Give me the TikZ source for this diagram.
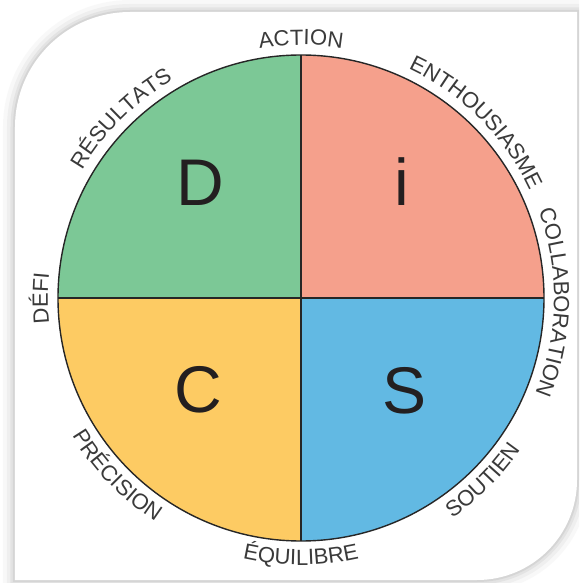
\documentclass[tikz,border=0pt]{standalone}
\usepackage{fontspec}
\setmainfont{Liberation Sans}
\usetikzlibrary{decorations.text}

\definecolor{discD}{HTML}{7CC896}
\definecolor{discI}{HTML}{F5A08C}
\definecolor{discS}{HTML}{62B9E3}
\definecolor{discC}{HTML}{FDCB63}
\definecolor{lblgray}{HTML}{3A3A3A}
\definecolor{letterink}{HTML}{231F20}

\newcommand\lblfont{\fontsize{22}{22}\selectfont\color{lblgray}}
\newcommand\discCard{(-286,-282) -- (-286,171) arc[start angle=180,end angle=90,radius=115]
  -- (276,286) -- (276,-182) arc[start angle=0,end angle=-90,radius=100] -- cycle}

% words above the disc run clockwise, words below run the other way
\newcommand\uplabel[2]{\path[decorate,decoration={text along path,text align=center,
  text={|\lblfont|#2}}] (#1+70:253) arc[start angle=#1+70,end angle=#1-70,radius=253];}
\newcommand\downlabel[2]{\path[decorate,decoration={text along path,text align=center,
  text={|\lblfont|#2}}] (#1-70:267) arc[start angle=#1-70,end angle=#1+70,radius=267];}

\begin{document}
\begin{tikzpicture}[x=1pt,y=1pt,
    quarter/.style={draw=none},
    divider/.style={draw=black!85,line width=1.8pt},
    rim/.style={draw=black!85,line width=1.4pt},
    bigletter/.style={font=\fontsize{66}{66}\selectfont,text=letterink,inner sep=0pt}]
    \useasboundingbox (-301,-285) rectangle (278,298);
    \clip (-301,-285) rectangle (278,298);
    \fill[white] (-301,-285) rectangle (278,298);

    % card with its soft shadow
    \foreach \w/\o in {24/0.05,16/0.07,9/0.10,4/0.14}
        \draw[gray,line width=\w pt,opacity=\o] \discCard;
    \fill[white] \discCard;

    % the four quarters
    \fill[discD] (0,0) -- (0,243) arc[start angle=90,end angle=180,radius=243] -- cycle;
    \fill[discI] (0,0) -- (243,0) arc[start angle=0,end angle=90,radius=243] -- cycle;
    \fill[discS] (0,0) -- (0,-243) arc[start angle=-90,end angle=0,radius=243] -- cycle;
    \fill[discC] (0,0) -- (-243,0) arc[start angle=180,end angle=270,radius=243] -- cycle;

    \coordinate (top) at (0,243);
    \coordinate (bottom) at (0,-243);
    \coordinate (left) at (-243,0);
    \coordinate (right) at (243,0);
    \draw[divider] (top) -- (bottom);
    \draw[divider] (left) -- (right);
    \draw[rim] (0,0) circle (243);

    \node[bigletter] (D) at (-101,115) {D};
    \node[bigletter] (i) at (101,116) {i};
    \node[bigletter] (C) at (-103,-92) {C};
    \node[bigletter] (S) at (104,-93) {S};

    \uplabel{180}{DÉFI}
    \uplabel{135}{RÉSULTATS}
    \uplabel{90}{ACTION}
    \uplabel{45}{ENTHOUSIASME}
    \uplabel{-1}{COLLABORATION}
    \downlabel{-45}{SOUTIEN}
    \downlabel{-90}{ÉQUILIBRE}
    \downlabel{-136}{PRÉCISION}
\end{tikzpicture}
\end{document}
